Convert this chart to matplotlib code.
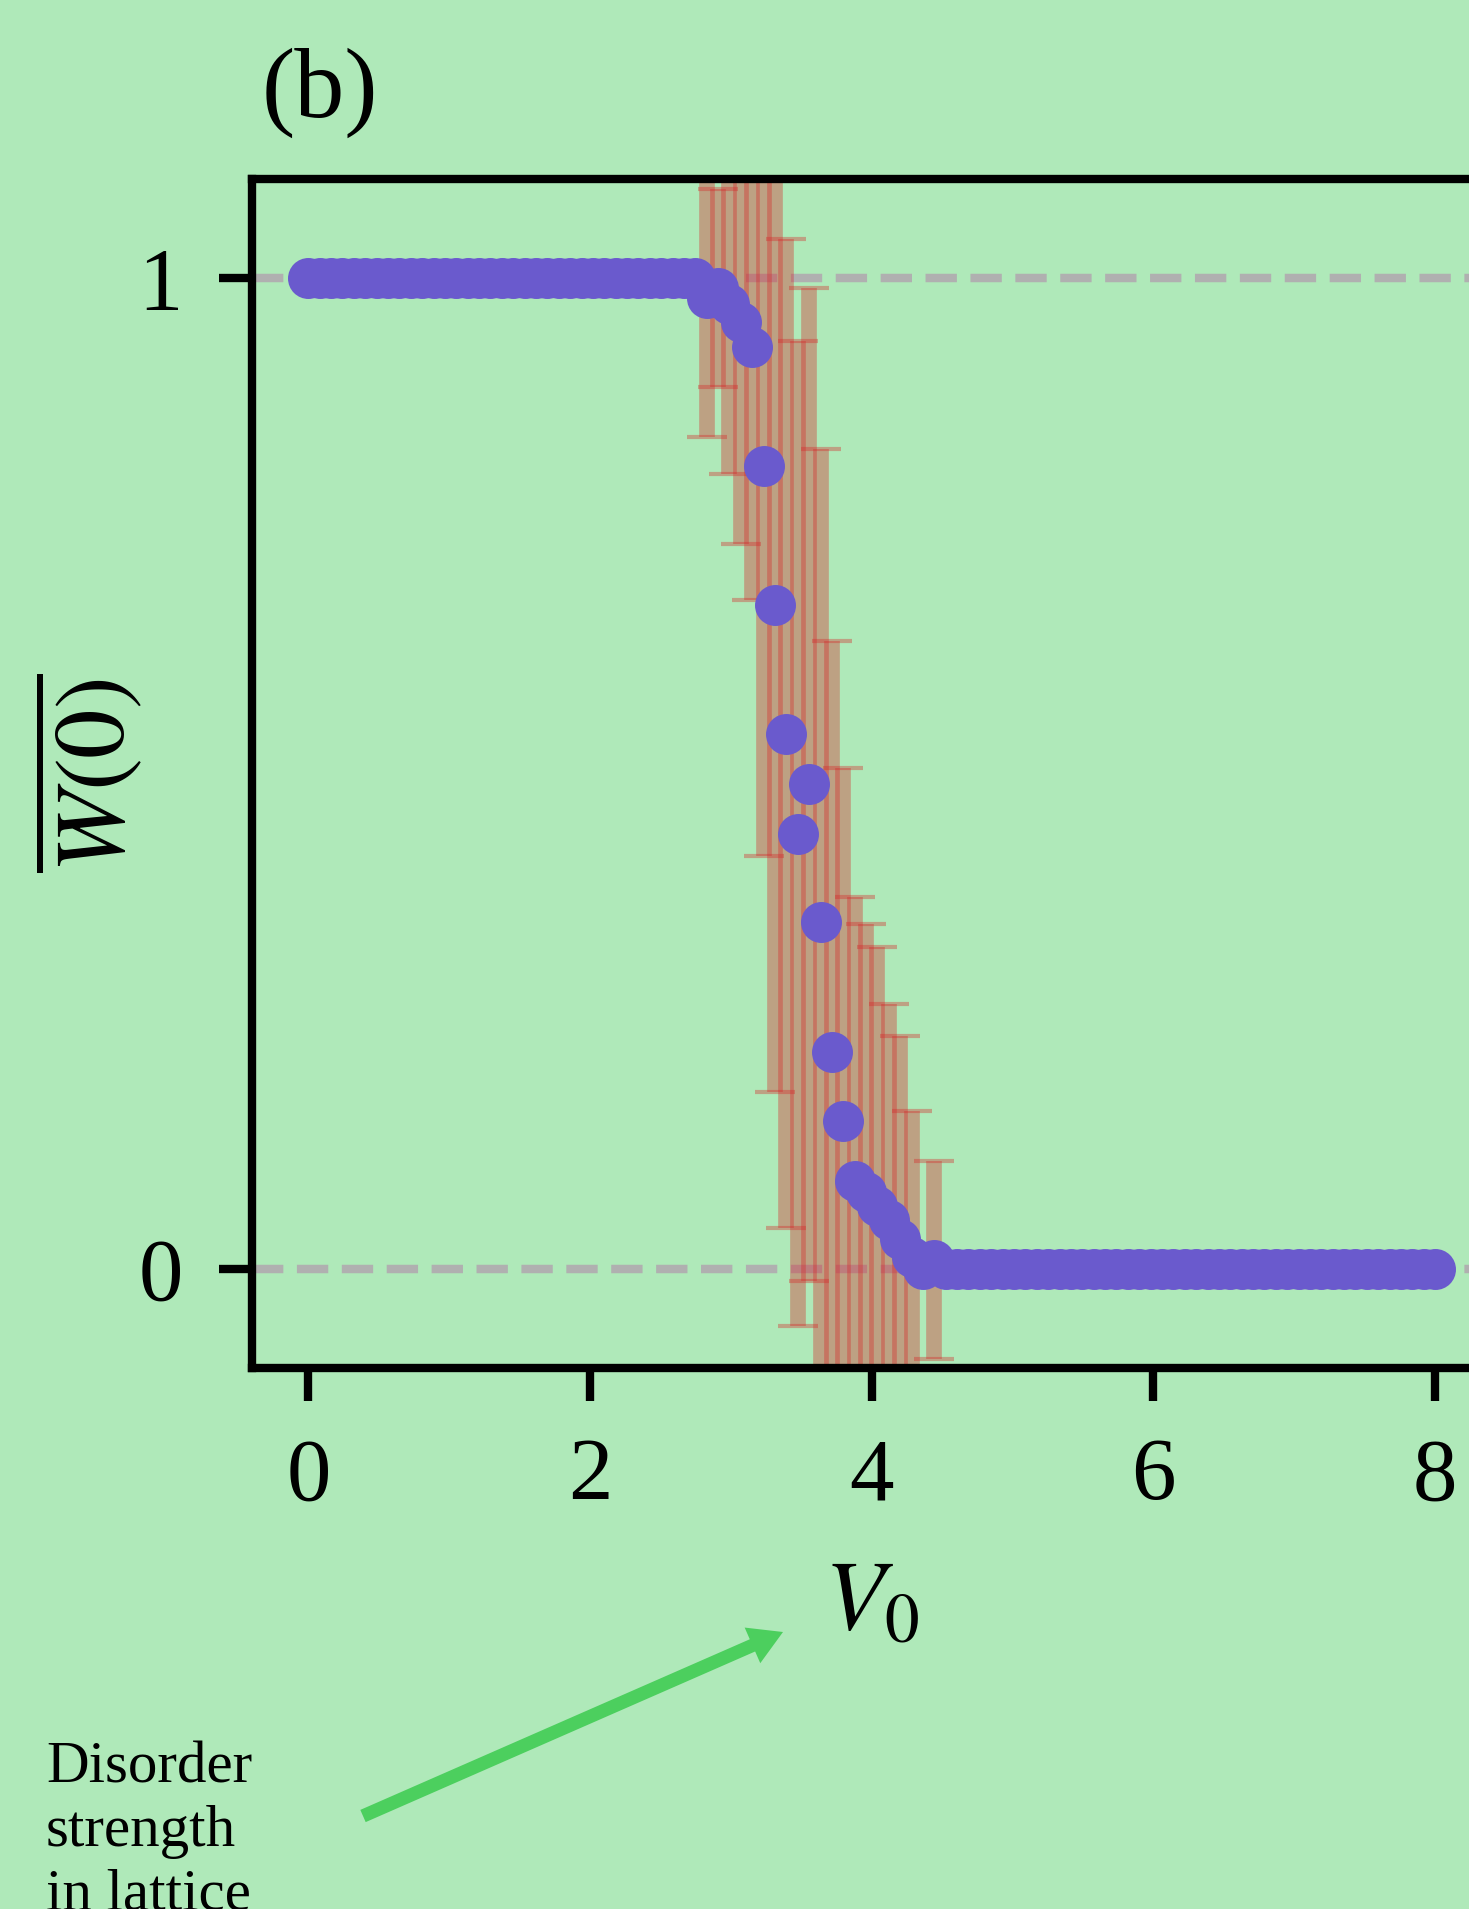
import numpy as np
import matplotlib
matplotlib.use('Agg')
import matplotlib.pyplot as plt

plt.rcParams['font.family'] = ['Liberation Serif', 'DejaVu Serif']
plt.rcParams['mathtext.fontset'] = 'stix'

# ---- data ----
V0 = np.linspace(0, 8, 100)          # regular grid, step ~0.081
W_high = [1.0] * 35
W_transition = [0.980, 0.990, 0.974, 0.956, 0.930, 0.810, 0.670, 0.540, 0.439,
                0.489, 0.350, 0.219, 0.149, 0.089, 0.078, 0.064, 0.049, 0.030,
                0.012, 0.0, 0.009]
W_low = [0.0] * 44
W = np.array(W_high + W_transition + W_low)

err_high = [0.0] * 35
err_transition = [0.140, 0.100, 0.172, 0.224, 0.255, 0.393, 0.491, 0.499, 0.497,
                  0.501, 0.477, 0.415, 0.357, 0.286, 0.270, 0.261, 0.218, 0.205,
                  0.147, 0.0, 0.100]
err_low = [0.0] * 44
err = np.array(err_high + err_transition + err_low)

xticks = [0, 2, 4, 6, 8]
yticks = [0, 1]
ref_levels = [0, 1]

# ---- styling ----
BG = '#afe9b9'
MARKER = '#6a5acd'
ECOLOR = (0.839, 0.153, 0.157, 0.37)
ARROW = '#4ccf5e'

W_PX, H_PX, DPI = 1469, 1909, 100
fig = plt.figure(figsize=(W_PX / DPI, H_PX / DPI), dpi=DPI, facecolor=BG)
ax_left, ax_right, ax_top, ax_bottom = 252, 1491.5, 179, 1368
ax = fig.add_axes([ax_left / W_PX, 1 - ax_bottom / H_PX,
                   (ax_right - ax_left) / W_PX, (ax_bottom - ax_top) / H_PX])
ax.set_facecolor(BG)

for lvl in ref_levels:
    ax.axhline(lvl, color='#b0b0b0', lw=6.1, ls='--', zorder=1)

mask = err > 0
ax.errorbar(V0[mask], W[mask], yerr=err[mask], fmt='none', ecolor=ECOLOR,
            elinewidth=11.3, capsize=14.75, capthick=3.0, zorder=2)
ax.plot(V0, W, 'o', ms=29.5, color=MARKER, mew=0, zorder=3)

ax.set_xlim(-0.4, 8.4)
ax.set_ylim(-0.1, 1.1)
ax.set_xticks(xticks)
ax.set_yticks(yticks)
ax.set_xticklabels([str(t) for t in xticks])
ax.set_yticklabels([str(t) for t in yticks])
ax.tick_params(axis='both', direction='out', length=23.8, width=6,
               labelsize=64, pad=26, color='black')
for sp in ax.spines.values():
    sp.set_linewidth(6)
    sp.set_color('black')

ax.set_xlabel(r'$V_0$', fontsize=71)
ax.xaxis.set_label_coords(0.5, (ax_bottom - 1560) / (ax_bottom - ax_top))
ax.set_ylabel(r'$\overline{W(0)}$', fontsize=71)
ax.yaxis.set_label_coords((146 - ax_left) / (ax_right - ax_left), 0.5)

fig.text(262 / W_PX, 1 - 117 / H_PX, '(b)', fontsize=72, ha='left', va='baseline')

# baseline of the last line sits at the bottom edge of the figure
fig.text(46 / W_PX, 1 - 1909 / H_PX, 'Disorder\nstrength\nin lattice',
         fontsize=42.5, ha='left', va='baseline', linespacing=1.22)

ax.annotate('', xy=(783, H_PX - 1632), xycoords='figure pixels',
            xytext=(363, H_PX - 1816), textcoords='figure pixels',
            arrowprops=dict(arrowstyle='simple,head_length=24,head_width=28,tail_width=9.6',
                            mutation_scale=1, color=ARROW, lw=0,
                            shrinkA=0, shrinkB=0))

fig.savefig('out.png', dpi=DPI, facecolor=BG)
